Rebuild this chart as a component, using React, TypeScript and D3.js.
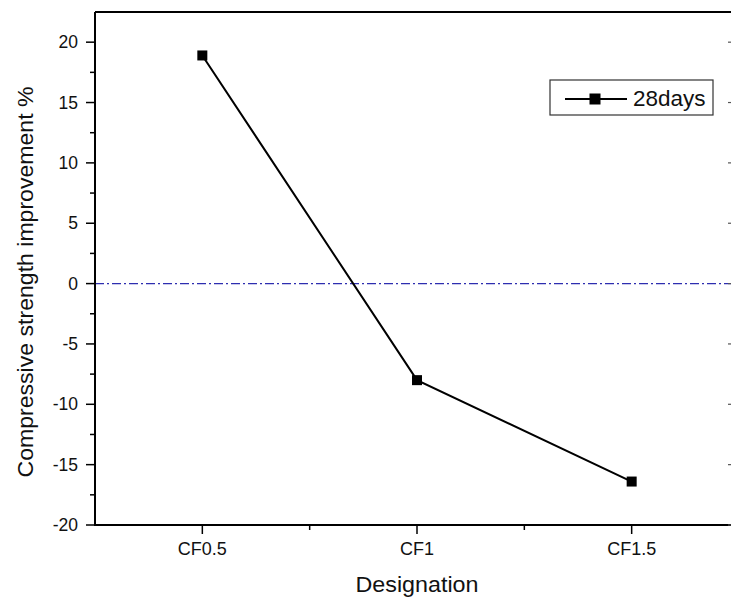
import { useEffect, useRef } from "react"
import * as d3 from "d3"

const categories = ["CF0.5", "CF1", "CF1.5"]
const values = [18.9, -8.0, -16.4]
const yTicks = [-20, -15, -10, -5, 0, 5, 10, 15, 20]
const seriesName = "28days"

export default function App() {
    const ref = useRef<SVGSVGElement | null>(null)

    useEffect(() => {
        const svgEl = ref.current
        if (!svgEl) return
        const width = 731
        const height = 599
        const left = 95
        const top = 12
        const bottom = 525
        const right = 739

        const svg = d3.select(svgEl)
        svg.selectAll("*").remove()

        const x = d3.scaleLinear().domain([0.5, 3.5]).range([left, right])
        const y = d3.scaleLinear().domain([-20, 22.5]).range([bottom, top])
        const font = "Arial, 'Liberation Sans', sans-serif"

        svg.append("rect").attr("width", width).attr("height", height).attr("fill", "#fff")

        // zero reference line
        svg.append("line")
            .attr("x1", left).attr("x2", width)
            .attr("y1", y(0)).attr("y2", y(0))
            .attr("stroke", "#2e2eb0")
            .attr("stroke-width", 1.2)
            .attr("stroke-dasharray", "9,3,2,3")

        // frame
        svg.append("line").attr("x1", left).attr("x2", width + 5).attr("y1", top).attr("y2", top)
            .attr("stroke", "#000").attr("stroke-width", 2)
        svg.append("line").attr("x1", left).attr("x2", left).attr("y1", top).attr("y2", bottom)
            .attr("stroke", "#000").attr("stroke-width", 2)
        svg.append("line").attr("x1", left - 1).attr("x2", width + 5).attr("y1", bottom).attr("y2", bottom)
            .attr("stroke", "#000").attr("stroke-width", 2)
        svg.append("line").attr("x1", right).attr("x2", right).attr("y1", top).attr("y2", bottom)
            .attr("stroke", "#000").attr("stroke-width", 2)

        // y ticks
        const yMinor = yTicks.slice(0, -1).map(t => t + 2.5)
        svg.append("g").selectAll("line").data(yTicks).join("line")
            .attr("x1", left - 9).attr("x2", left).attr("y1", d => y(d)).attr("y2", d => y(d))
            .attr("stroke", "#000").attr("stroke-width", 1.5)
        svg.append("g").selectAll("line").data(yMinor).join("line")
            .attr("x1", left - 5).attr("x2", left).attr("y1", d => y(d)).attr("y2", d => y(d))
            .attr("stroke", "#000").attr("stroke-width", 1.5)
        // right axis inward ticks
        svg.append("g").selectAll("line").data(yTicks).join("line")
            .attr("x1", right - 11).attr("x2", right).attr("y1", d => y(d)).attr("y2", d => y(d))
            .attr("stroke", "#555").attr("stroke-width", 1.2)
        svg.append("g").selectAll("text").data(yTicks).join("text")
            .attr("x", left - 17).attr("y", d => y(d) + 6)
            .attr("text-anchor", "end")
            .attr("font-family", font).attr("font-size", 17.5).attr("fill", "#111")
            .text(d => d)

        // x ticks
        const xMajor = categories.map((_, i) => i + 1)
        const xMinor = [1.5, 2.5]
        svg.append("g").selectAll("line").data(xMajor).join("line")
            .attr("x1", d => x(d)).attr("x2", d => x(d)).attr("y1", bottom).attr("y2", bottom + 9)
            .attr("stroke", "#000").attr("stroke-width", 1.5)
        svg.append("g").selectAll("line").data(xMinor).join("line")
            .attr("x1", d => x(d)).attr("x2", d => x(d)).attr("y1", bottom).attr("y2", bottom + 5)
            .attr("stroke", "#000").attr("stroke-width", 1.5)
        svg.append("g").selectAll("text").data(categories).join("text")
            .attr("x", (_, i) => x(i + 1)).attr("y", 555)
            .attr("text-anchor", "middle")
            .attr("font-family", font).attr("font-size", 18).attr("fill", "#111")
            .text(d => d)

        // axis titles
        svg.append("text")
            .attr("x", 417).attr("y", 592)
            .attr("text-anchor", "middle")
            .attr("font-family", font).attr("font-size", 22).attr("fill", "#111")
            .attr("textLength", 123).attr("lengthAdjust", "spacingAndGlyphs")
            .text("Designation")
        svg.append("text")
            .attr("transform", "translate(33,282) rotate(-90)")
            .attr("text-anchor", "middle")
            .attr("font-family", font).attr("font-size", 22).attr("fill", "#111")
            .attr("textLength", 391).attr("lengthAdjust", "spacingAndGlyphs")
            .text("Compressive strength improvement %")

        // series
        const pts = values.map((v, i) => ({ x: i + 1, v }))
        const line = d3.line<{ x: number; v: number }>().x(d => x(d.x)).y(d => y(d.v))
        svg.append("path").datum(pts)
            .attr("fill", "none").attr("stroke", "#000").attr("stroke-width", 2)
            .attr("d", line)
        svg.append("g").selectAll("rect").data(pts).join("rect")
            .attr("x", d => x(d.x) - 5).attr("y", d => y(d.v) - 5)
            .attr("width", 10).attr("height", 10).attr("fill", "#000")

        // legend
        const lg = svg.append("g").attr("transform", "translate(550,80)")
        lg.append("rect").attr("width", 163).attr("height", 35)
            .attr("fill", "#fff").attr("stroke", "#333").attr("stroke-width", 1.2)
        lg.append("line").attr("x1", 15).attr("x2", 77).attr("y1", 19).attr("y2", 19)
            .attr("stroke", "#000").attr("stroke-width", 2)
        lg.append("rect").attr("x", 39.5).attr("y", 13.5).attr("width", 11).attr("height", 11).attr("fill", "#000")
        lg.append("text").attr("x", 83).attr("y", 26)
            .attr("font-family", font).attr("font-size", 22.5).attr("fill", "#111")
            .text(seriesName)
    }, [])

    return (
        <div style={{ position: "fixed", left: 0, top: 0 }}>
            <svg ref={ref} width={731} height={599} style={{ display: "block" }} />
        </div>
    )
}
